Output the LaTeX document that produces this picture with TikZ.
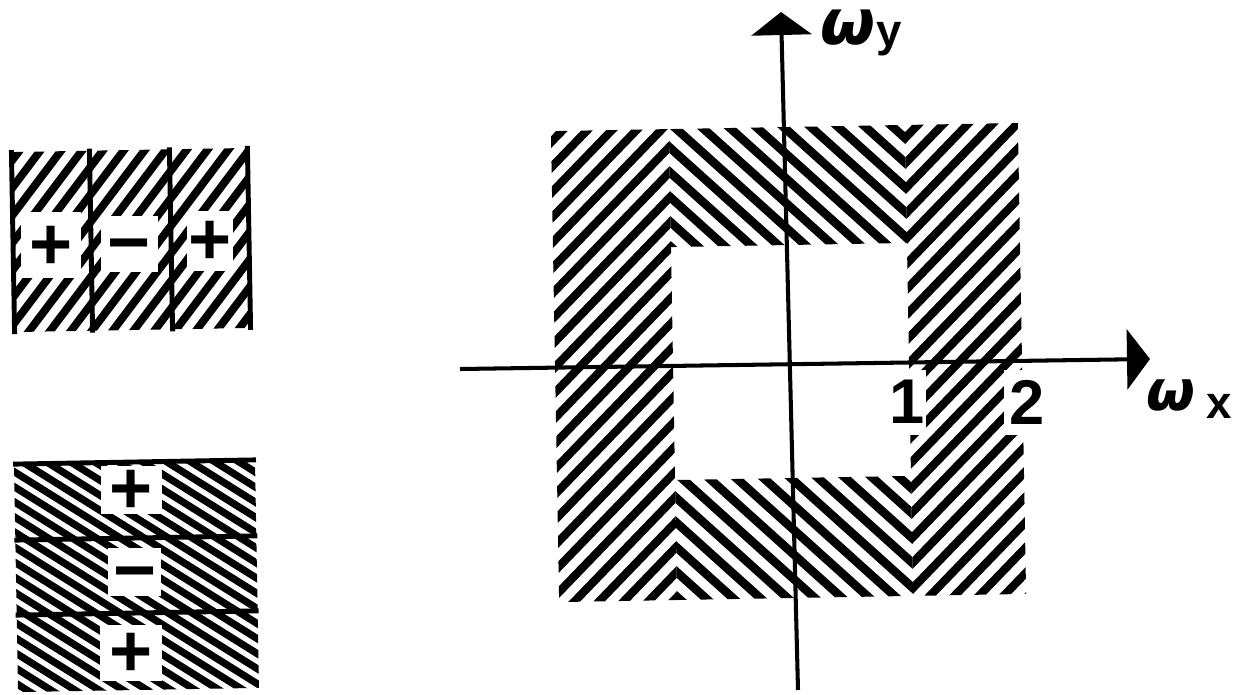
\documentclass[tikz,border=0pt]{standalone}
\usepackage{fontspec}
\setmainfont{Liberation Sans}
\newfontfamily\omfont{DejaVu Sans}
\usetikzlibrary{arrows.meta}
% #1 x1, #2 y1, #3 x2, #4 y2, #5 angle, #6 vertical spacing, #7 ref x, #8 ref y, #9 line width (pt)
\newcommand\myhatch[9]{%
 \begin{scope}
 \clip (#1,#2) rectangle (#3,#4);
 \pgfmathsetmacro\hxa{#7-600*cos(#5)}%
 \pgfmathsetmacro\hxb{#7+600*cos(#5)}%
 \foreach \i in {-45,...,45}{%
   \pgfmathsetmacro\hya{#8+\i*#6+600*sin(#5)}%
   \pgfmathsetmacro\hyb{#8+\i*#6-600*sin(#5)}%
   \draw[line width=#9pt] (\hxa,\hya) -- (\hxb,\hyb);}
 \end{scope}}
\begin{document}
\begin{tikzpicture}[x=0.02cm,y=-0.02cm,
  bar/.style={line width=2.8pt},
  axis/.style={line width=2.3pt,-{Triangle[length=0.46cm,width=1.2cm]}},
  lab/.style={fill=white,inner sep=0pt,text height=27pt,text depth=0pt,font=\fontsize{42}{42}\selectfont\bfseries},
  num/.style={fill=white,inner sep=0pt,minimum height=1.3cm,font=\fontsize{36}{36}\selectfont\bfseries}]
\path[use as bounding box,fill=white] (0,0) rectangle (1235,694);

% top-left panel
\begin{scope}[rotate around={1:(131,240)}]
 \myhatch{12}{150}{250}{330}{52}{27}{13}{240}{4.5}
 \draw[bar] (13,148) -- (13,332);
 \draw[bar] (91,148) -- (91,332);
 \draw[bar] (171,148) -- (171,332);
 \draw[bar] (249,148) -- (249,332);
 \node[lab,minimum width=1.2cm,minimum height=1.32cm] (p1) at (51,244) {+};
 \node[lab,minimum width=1.14cm,minimum height=1.12cm] (m1) at (129,244) {−};
 \node[lab,minimum width=0.92cm,minimum height=1.2cm] (p2) at (210,242) {+};
\end{scope}

% bottom-left panel
\begin{scope}[rotate around={1:(136,576)}]
 \myhatch{16}{462}{257}{690}{147}{15.2}{16}{576}{4.1}
 \draw[bar] (15,462) -- (258,462);
 \draw[bar] (15,538) -- (258,538);
 \draw[bar] (15,613) -- (258,613);
 \node[lab,minimum width=1.24cm,minimum height=0.96cm] (p3) at (133,490) {+};
 \node[lab,minimum width=1.06cm,minimum height=0.9cm] (m2) at (135,572) {−};
 \node[lab,minimum width=1.24cm,minimum height=1.12cm] (p4) at (130,653) {+};
\end{scope}

% right figure
\begin{scope}[rotate around={1:(790,362)}]
 \myhatch{555}{127}{673}{598}{45}{25}{673}{370}{4.7}
 \myhatch{673}{127}{909}{245}{137}{25}{673}{370}{4.9}
 \myhatch{673}{478}{909}{598}{137}{25}{673}{370}{4.9}
 \myhatch{909}{127}{1022}{598}{45}{25}{909}{370+236*tan(43)}{4.7}
\end{scope}
\node[num,minimum width=0.76cm] (one) at (907,402) {1};
\node[num,minimum width=0.92cm] (two) at (1027,402) {2};

\coordinate (xs) at (460,369);
\coordinate (xe) at (1150,359);
\coordinate (ys) at (798,690);
\coordinate (ye) at (781,12);
\draw[axis] (xs) -- (xe);
\draw[axis] (ys) -- (ye);

\node[anchor=base west,inner sep=0pt] (wx) at (1146,410)
  {{\omfont\bfseries\itshape\fontsize{32}{32}\selectfont ω}\hspace{0.22cm}\raisebox{-0.16cm}{\fontsize{26}{26}\selectfont\bfseries x}};
\node[anchor=base west,inner sep=0pt] (wy) at (820,44)
  {{\omfont\bfseries\itshape\fontsize{36}{36}\selectfont ω}\hspace{0.02cm}\raisebox{-0.04cm}{\fontsize{26}{26}\selectfont\bfseries y}};
\end{tikzpicture}
\end{document}
